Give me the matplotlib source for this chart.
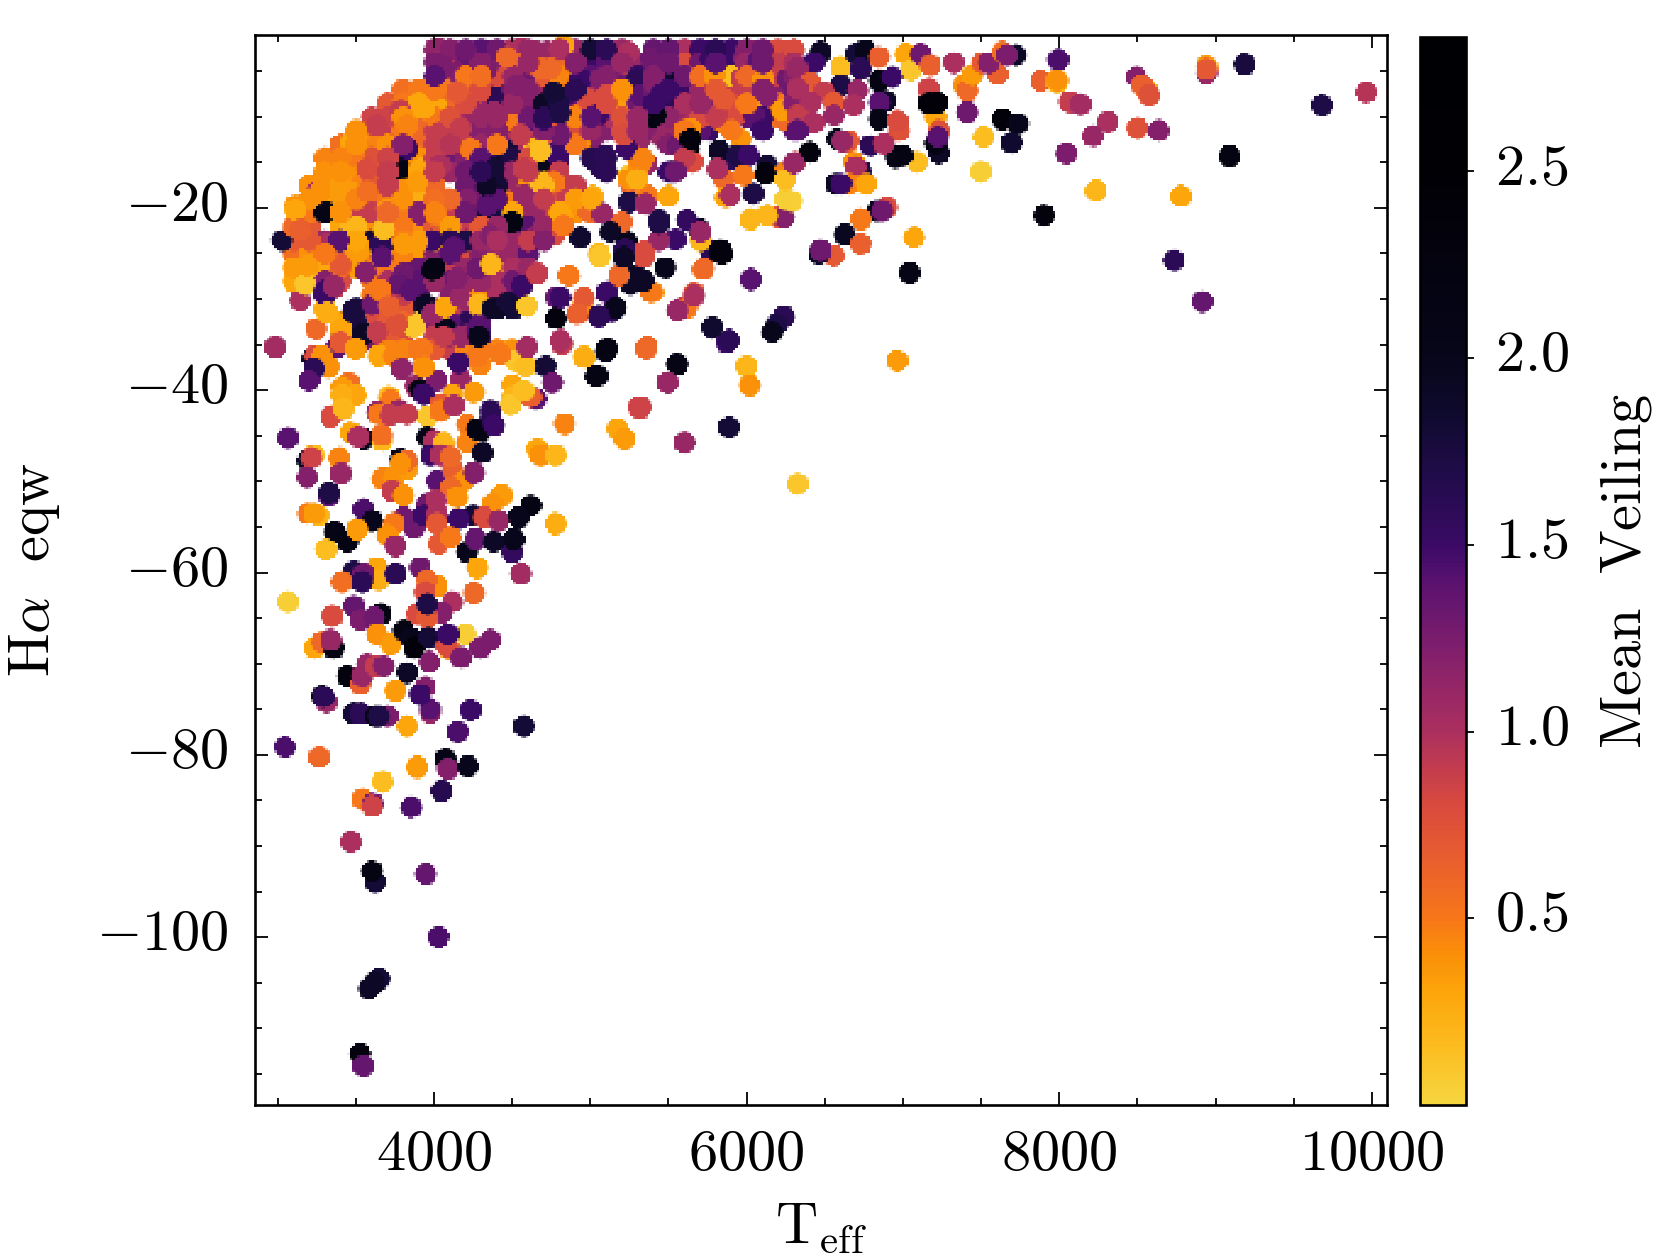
import numpy as np
import matplotlib
matplotlib.use('Agg')
import matplotlib.pyplot as plt
from matplotlib.colors import LinearSegmentedColormap
from matplotlib.ticker import FuncFormatter, MultipleLocator
from matplotlib.transforms import ScaledTranslation

plt.rcParams['mathtext.fontset'] = 'cm'
plt.rcParams['font.family'] = 'serif'
plt.rcParams['font.serif'] = ['cmr10']
plt.rcParams['axes.unicode_minus'] = False

# (Teff, Halpha eqw, mean veiling), region by region
crowded = [
    (4000,-2.6,1.15),(4100,-2.6,1.2),(4200,-2.6,1.3),(4300,-2.6,1.4),(4400,-2.6,1.3),(4500,-2.6,1.0),(4600,-2.6,1.1),
    (4800,-2.6,1.0),(4900,-2.6,1.1),(5000,-2.6,1.8),(5100,-2.6,1.6),(5200,-2.6,1.1),(5400,-2.6,1.35),(5500,-2.6,1.35),
    (5600,-2.6,1.0),(5700,-2.6,1.5),(5800,-2.6,1.6),(5900,-2.6,1.5),(6000,-2.6,1.2),(6100,-2.6,1.3),(6200,-2.6,.8),(6300,-2.6,.8),
    (4000,-4,1.25),(4100,-4,1.1),(4200,-4,1.25),(4300,-4,1.2),(4400,-4,1.25),(4500,-4,.6),(4600,-4,1.1),(4700,-4,.6),
    (4800,-4,.6),(4900,-4,1.2),(5000,-4,1.5),(5100,-4,1.4),(5200,-4,1.1),(5300,-4,1.1),(5400,-4,1.3),(5500,-4,1.3),
    (5600,-4,.9),(5700,-4,1.3),(5800,-4,1.4),(5900,-4,1.5),(6000,-4,1.1),(6100,-4,1.3),(6200,-4,.9),(6300,-4,1.0),
    (4000,-5.5,1.4),(4100,-5.5,1.2),(4200,-5.5,.5),(4300,-5.5,.55),(4400,-5.5,.8),(4500,-5.5,1.1),(4600,-5.5,1.2),(4700,-5.5,.7),
    (4800,-5.5,.45),(4900,-5.5,1.4),(5000,-5.5,1.4),(5100,-5.5,1.2),(5200,-5.5,.8),(5300,-5.5,1.5),(5400,-5.5,1.2),(5500,-5.5,1.8),
    (5600,-5.5,1.3),(5700,-5.5,.55),(5800,-5.5,.4),(5900,-5.5,.15),(6000,-5.5,.6),(6100,-5.5,.35),(6200,-5.5,.9),(6300,-5.5,1.2),
    (3800,-7,.55),(3900,-7,.5),(4000,-7,.5),(4100,-7,.6),(4200,-7,.65),(4300,-7,.8),(4400,-7,1.6),(4500,-7,1.2),(4600,-7,1.2),(4700,-7,1.1),
    (4800,-7,1.8),(4900,-7,1.6),(5000,-7,1.0),(5100,-7,.8),(5200,-7,.4),(5300,-7,1.4),(5400,-7,1.3),(5500,-7,1.5),
    (5600,-7,1.5),(5700,-7,1.1),(5800,-7,.7),(5900,-7,.9),(6000,-7,.9),(6100,-7,1.2),(6200,-7,1.2),(6300,-7,1.3),
    (3700,-8.5,.7),(3800,-8.5,.5),(3900,-8.5,.3),(4000,-8.5,.3),(4100,-8.5,.6),(4200,-8.5,.8),(4300,-8.5,1.1),(4400,-8.5,1.2),(4500,-8.5,1.1),(4600,-8.5,1.2),(4700,-8.5,1.9),
    (4800,-8.5,1.7),(4900,-8.5,1.3),(5000,-8.5,.7),(5100,-8.5,.8),(5200,-8.5,.4),(5300,-8.5,1.3),(5400,-8.5,1.5),(5500,-8.5,1.6),
    (5600,-8.5,1.0),(5700,-8.5,1.1),(5800,-8.5,.9),(5900,-8.5,.8),(6000,-8.5,.5),(6100,-8.5,1.3),(6200,-8.5,.5),(6300,-8.5,1.2),
    (3600,-10,.85),(3700,-10,.85),(3800,-10,.4),(3900,-10,.35),(4000,-10,.5),(4100,-10,.75),(4200,-10,1.0),(4300,-10,1.1),(4400,-10,1.1),(4500,-10,.5),(4600,-10,1.3),(4700,-10,1.6),
    (4800,-10,1.7),(4900,-10,.45),(5000,-10,1.4),(5100,-10,1.0),(5200,-10,.75),(5300,-10,1.1),(5400,-10,2.2),(5500,-10,1.15),
    (5600,-10,1.0),(5700,-10,.8),(5800,-10,.9),(5900,-10,.7),(6000,-10,1.4),(6100,-10,1.5),(6200,-10,.5),(6300,-10,1.3),
    (3500,-11.5,.4),(3600,-11.5,.9),(3700,-11.5,.9),(3800,-11.5,.5),(3900,-11.5,.55),(4000,-11.5,.9),(4100,-11.5,.9),(4200,-11.5,1.0),(4300,-11.5,1.2),(4400,-11.5,1.2),(4500,-11.5,1.1),(4600,-11.5,.9),(4700,-11.5,1.2),
    (4800,-11.5,1.3),(4900,-11.5,.8),(5000,-11.5,1.1),(5100,-11.5,1.2),(5200,-11.5,.8),(5300,-11.5,1.1),(5400,-11.5,1.2),(5500,-11.5,1.1),
    (5600,-11.5,.5),(5700,-11.5,1.4),(5900,-11.5,.5),(6100,-11.5,1.5),(6300,-11.5,1.4),
    (3400,-13,.55),(3500,-13,.4),(3600,-13,.45),(3700,-13,.4),(3800,-13,1.2),(3900,-13,.6),(4000,-13,.9),(4100,-13,.95),(4200,-13,.9),(4300,-13,1.1),(4400,-13,.5),(4500,-13,1.3),(4600,-13,1.0),(4700,-13,.25),
    (4800,-13,1.4),(4900,-13,.5),(5000,-13,1.2),(5300,-13,1.1),(5500,-13,1.2),(5600,-13,2.3),
    (3300,-14.5,.45),(3400,-14.5,.45),(3500,-14.5,.4),(3600,-14.5,.75),(3700,-14.5,.85),(3800,-14.5,1.9),(3900,-14.5,.4),(4000,-14.5,.9),(4100,-14.5,1.0),(4200,-14.5,1.2),(4300,-14.5,1.4),(4400,-14.5,1.6),(4500,-14.5,1.7),(4600,-14.5,.8),(4700,-14.5,.3),
    (4800,-14.5,1.5),(5000,-14.5,1.65),(5100,-14.5,1.65),(5300,-14.5,.45),(5600,-14.5,.9),(5900,-14.5,1.6),
    (3300,-16,.4),(3400,-16,.4),(3500,-16,.45),(3600,-16,.7),(3700,-16,.9),(3800,-16,2.2),(3900,-16,.3),(4000,-16,.9),(4100,-16,1.1),(4200,-16,1.3),(4300,-16,1.6),(4400,-16,1.85),(4500,-16,1.1),(4600,-16,.9),(4700,-16,2.0),
    (4800,-16,.9),(5100,-16,1.6),(5300,-16,.4),(5500,-16,1.5),
    (3200,-17.5,.4),(3300,-17.5,.35),(3400,-17.5,.35),(3500,-17.5,.4),(3600,-17.5,.7),(3700,-17.5,.9),(3800,-17.5,.45),(3900,-17.5,.35),(4000,-17.5,.6),(4200,-17.5,1.3),(4300,-17.5,1.7),(4400,-17.5,1.8),(4500,-17.5,1.1),(4600,-17.5,.4),(4700,-17.5,.2),
    (4800,-17.5,.5),(4900,-17.5,.9),
    (3200,-19,.4),(3300,-19,.3),(3400,-19,.35),(3500,-19,.45),(3600,-19,.55),(3700,-19,.5),(3800,-19,.4),(3900,-19,.25),(4000,-19,.55),(4100,-19,.6),(4200,-19,1.2),(4300,-19,1.3),(4400,-19,1.4),(4500,-19,.6),(4600,-19,1.1),(4700,-19,.9),
    (4800,-19,.9),(4900,-19,.35),(5000,-19,.3),
    (3200,-20.5,.5),(3300,-20.5,2.0),(3400,-20.5,.4),(3500,-20.5,1.1),(3600,-20.5,.9),(3700,-20.5,.6),(3800,-20.5,.5),(3900,-20.5,1.2),(4000,-20.5,.45),(4100,-20.5,.9),(4200,-20.5,1.3),(4300,-20.5,1.7),(4400,-20.5,1.7),(4500,-20.5,.3),(4600,-20.5,1.2),(4700,-20.5,.9),
    (4800,-20.5,.3),(4900,-20.5,.4),(5000,-20.5,.55),
    (3100,-22,.6),(3200,-22,.7),(3400,-22,.3),(3500,-22,.2),(3600,-22,.4),(3700,-22,.15),(3800,-22,.5),(3900,-22,.4),(4000,-22,.55),(4100,-22,.35),(4200,-22,.9),(4300,-22,.7),(4400,-22,1.1),(4500,-22,2.1),(4600,-22,1.4),(4700,-22,1.1),(4800,-22,.45),
    (3100,-23.5,.7),(3200,-23.5,.7),(3300,-23.5,1.1),(3400,-23.5,1.6),(3500,-23.5,.3),(3600,-23.5,1.8),(3700,-23.5,1.7),(3800,-23.5,.45),(3900,-23.5,.35),(4000,-23.5,.3),(4100,-23.5,1.6),(4200,-23.5,1.7),(4300,-23.5,1.1),(4400,-23.5,1.0),(4500,-23.5,1.1),(4600,-23.5,.9),(4700,-23.5,1.2),
    (3100,-25,.55),(3200,-25,.4),(3300,-25,.5),(3400,-25,.45),(3500,-25,.35),(3600,-25,1.2),(3700,-25,.35),(3800,-25,.45),(3900,-25,.3),(4000,-25,1.2),(4100,-25,1.4),(4200,-25,.8),(4300,-25,1.2),(4400,-25,1.1),(4500,-25,1.1),(4600,-25,1.4),
    (3100,-26.5,.35),(3200,-26.5,.5),(3300,-26.5,.35),(3400,-26.5,.6),(3500,-26.5,.35),(3600,-26.5,.45),(3700,-26.5,.5),(3800,-26.5,1.3),(3900,-26.5,1.35),(4000,-26.5,2.2),(4100,-26.5,.9),(4200,-26.5,1.1),(4300,-26.5,1.3),(4400,-26.5,.25),(4500,-26.5,1.0),(4600,-26.5,1.1),
    (3100,-28,.3),(3200,-28,.15),(3300,-28,1.2),(3400,-28,.8),(3600,-28,.5),(3700,-28,1.0),(3800,-28,1.3),(3900,-28,1.4),(4000,-28,1.1),(4100,-28,1.3),(4200,-28,1.1),(4300,-28,1.1),(4400,-28,1.0),(4500,-28,1.3),
    (3300,-29.5,1.5),(3600,-29.5,.5),(3700,-29.5,.6),(3800,-29.5,.9),(3900,-29.5,1.4),(4100,-29.5,1.2),(4200,-29.5,1.0),(4300,-29.5,.4),(4400,-29.5,1.0),(4500,-29.5,1.9),
    (3300,-31,.25),(3500,-31,1.75),(3600,-31,1.3),(3700,-31,.65),(3800,-31,.7),(3900,-31,1.7),(4000,-31,1.1),(4100,-31,.9),(4200,-31,1.1),(4300,-31,.2),(4400,-31,1.9),(4500,-31,1.8),
    (3400,-32.5,.3),(3500,-32.5,1.75),(3600,-32.5,.8),(3700,-32.5,.7),(3800,-32.5,.6),(3900,-32.5,.1),(4000,-32.5,1.2),(4100,-32.5,1.4),(4200,-32.5,1.6),(4300,-32.5,1.4),
    (3400,-34,1.0),(3500,-34,1.9),(3600,-34,1.0),(3700,-34,.7),(3800,-34,.8),(4000,-34,.9),(4100,-34,1.4),(4200,-34,1.1),(4300,-34,1.5),
    (3700,-35.5,.45),(3800,-35.5,.45),(3900,-35.5,.5),(4000,-35.5,.7),(4100,-35.5,.9),(4200,-35.5,.45),(4300,-35.5,.5),(4400,-35.5,.45),(4500,-35.5,.4),
]

upper_left = [
    (4030,-2.5,1.1),(4030,-3.8,1.1),(4030,-5.0,1.3),(4018,-2.7,1.1),(4103,-3.2,1.0),(4209,-3.1,1.35),(4316,-2.9,1.35),
    (4401,-3.4,1.2),(4465,-3.4,.6),(4551,-2.5,1.0),(4657,-2.9,1.1),(4060,-4.5,1.25),(4167,-5.1,1.0),(4231,-5.8,.55),
    (4337,-4.7,1.25),(4465,-5.1,1.1),(4572,-5.8,1.3),(4679,-4.7,.6),(3932,-7.3,.55),(4039,-6.5,.5),(4146,-7.3,.7),
    (4273,-7.3,.7),(4401,-8.0,1.6),(4530,-6.5,1.2),(4636,-7.3,1.2),(4721,-8.7,1.9),(3932,-9.1,.3),(3847,-8.0,.55),
    (4018,-8.9,.3),(3783,-9.3,.9),(4103,-9.8,.8),(4252,-9.5,1.1),(4380,-9.5,1.1),(4487,-10.2,.5),(4615,-10.2,1.4),
    (4700,-10.2,1.5),(3698,-10.9,.9),(3634,-10.9,.9),(3826,-10.9,.45),(3932,-11.3,.6),(4039,-11.7,.9),(4167,-11.3,.9),
    (4295,-11.7,1.2),(4423,-12.0,1.2),(4551,-12.0,.9),(3506,-12.0,.35),(3463,-12.8,.3),(3591,-12.8,.35),(3399,-13.9,.55),
    (3484,-14.2,.5),(3612,-14.2,.45),(3719,-13.5,.4),(3826,-13.5,1.5),(3975,-13.5,.9),(4124,-13.7,1.3),(4231,-13.5,.5),
    (4380,-13.5,.45),(4465,-13.7,1.8),(4636,-13.5,.2),(3346,-15.3,.45),(3442,-15.7,.4),(3570,-15.7,.8),(3655,-15.3,.85),
    (3921,-15.7,.25),(4039,-15.3,1.0),(4146,-15.1,1.1),(4252,-15.7,1.3),(4380,-15.7,1.8),(4444,-15.3,1.9),(4316,-16.8,1.7),
    (4572,-15.7,.9),(4679,-15.5,2.0),(3292,-16.8,.4),(3399,-16.4,.35),(3506,-16.8,.45),(3804,-17.9,.4),(3890,-17.1,.35),
    (3996,-17.1,.7),(4209,-17.1,1.3),(4337,-17.5,1.9),(4465,-17.5,1.1),(4668,-17.3,.15),(3271,-18.2,.4),(3356,-18.2,.3),
    (3463,-18.2,.35),(3570,-18.2,.55),(3719,-18.6,.55),(3890,-19.0,.25),(3996,-19.0,.55),(4081,-19.0,.6),(4209,-19.0,1.2),
    (4337,-19.7,1.4),(4444,-19.0,.5),(4572,-18.6,1.1),(4700,-18.2,.9),(3250,-18.2,1.0),(3303,-20.4,2.1),(3420,-20.8,.4),
    (3527,-20.1,.9),(3698,-20.1,.35),(3804,-20.4,.5),(3921,-20.8,1.2),(4018,-20.8,.5),(4146,-20.4,1.3),(4337,-20.4,1.8),
    (4497,-21.5,2.2),(4551,-21.9,1.5),(4636,-20.4,1.1),(3111,-19.7,.4),(3143,-20.6,.7),(3463,-22.3,.2),(3676,-22.3,.15),
    (3644,-24.1,1.8),(3527,-24.3,.35),(3890,-23.7,.35),(4081,-23.7,1.5),(3996,-21.9,.7),(4359,-23.0,1.2),(4487,-23.7,1.1),
    (4657,-23.0,1.2),(3111,-20.2,.3),(3154,-20.6,.6),(3026,-23.5,1.8),(3143,-22.4,.65),(3186,-23.9,.7),(3314,-23.9,1.0),
    (3388,-23.5,1.4),(3186,-26.1,.4),(3314,-26.1,.3),(3399,-26.1,.7),(3527,-25.0,.4),(3655,-23.9,1.6),(3666,-25.4,1.4),
    (3570,-27.2,1.3),(3356,-28.7,.9),(3804,-23.9,.35),(3890,-24.5,.35),(3985,-23.5,1.5),(4124,-24.3,1.4),
]

upper_mid = [
    (4827,-2.1,.3),(4721,-2.9,1.1),(4998,-3.6,1.8),(5083,-2.9,1.5),(5243,-2.9,1.0),(5233,-4.5,.6),(5446,-3.6,1.3),(5382,-3.6,1.3),
    (5531,-3.2,1.3),(5617,-4.0,.8),(5766,-3.6,1.5),(5872,-4.0,1.5),(5979,-3.6,1.2),(6064,-4.0,1.4),(6171,-3.6,.7),(6278,-3.6,.9),
    (4742,-4.7,.6),(4827,-5.1,.4),(4934,-5.8,1.5),(5062,-5.8,1.2),(5147,-5.8,1.3),(5297,-5.8,1.6),(5403,-6.2,1.2),(5574,-6.2,1.9),
    (5702,-5.8,.6),(5787,-5.4,.4),(5851,-5.4,.15),(5958,-5.8,.9),(6107,-5.8,.4),(6150,-6.2,.3),(6256,-5.8,1.3),(4763,-7.3,1.8),
    (4870,-7.3,1.5),(4977,-8.0,.8),(5105,-7.6,.8),(5201,-7.6,.35),(5318,-7.6,1.4),(5446,-7.6,1.5),(5617,-7.3,1.5),(5723,-8.0,1.2),
    (5851,-8.0,.7),(5979,-8.0,.7),(6022,-8.4,.3),(6128,-7.6,1.2),(6256,-7.3,1.1),(4721,-9.1,1.9),(4806,-9.5,1.7),(4913,-9.8,.5),
    (5041,-9.8,1.5),(5169,-9.8,.9),(5297,-10.2,1.1),(5414,-9.8,2.2),(5531,-9.8,1.1),(5638,-11.3,.4),(5809,-9.8,.9),(5755,-11.5,1.5),
    (5936,-9.8,.8),(6043,-9.8,1.4),(6086,-10.9,1.5),(6235,-10.2,.6),(6224,-9.3,.35),(6310,-11.3,1.4),(4742,-11.7,.7),(4806,-12.0,1.3),
    (4934,-12.8,.4),(5041,-11.7,1.2),(5211,-12.0,.8),(5318,-12.4,1.1),(5467,-12.4,1.1),(5553,-13.1,1.3),(5851,-10.6,.45),(5958,-12.4,.4),
    (4678,-13.7,.15),(4721,-13.1,1.9),(4774,-13.9,1.5),(5094,-14.2,1.6),(5062,-15.5,1.6),(5233,-13.5,1.5),(5339,-14.6,.45),(5361,-15.1,1.1),
    (5649,-14.9,.8),(5638,-12.4,2.3),(5627,-13.5,2.4),(5520,-16.0,2.0),(5542,-16.0,1.3),(5819,-13.7,1.9),(5936,-14.2,1.7),(6011,-14.2,1.5),
    (5851,-16.8,.6),(5809,-15.7,1.0),(5979,-16.4,.5),(6128,-15.3,1.8),(6118,-16.2,2.3),(6246,-16.8,.15),(6235,-16.2,.45),(6310,-14.9,.9),
    (5243,-16.4,.1),(5243,-16.8,.4),(5297,-16.8,.25),(5254,-17.3,.65),(4699,-17.1,.2),(4763,-17.1,.5),(4827,-18.6,.9),(4721,-18.6,.8),
    (5013,-18.7,.25),(4945,-19.5,.35),(4977,-20.2,.6),(5073,-20.6,1.1),(5361,-18.6,.5),(5243,-19.3,1.7),(5350,-19.5,1.1),(5499,-18.7,.3),
    (5201,-21.5,.6),(5126,-22.6,1.9),(5233,-23.7,2.0),(5435,-21.3,1.7),(5617,-21.3,1.55),(5691,-22.3,2.0),(5702,-23.5,.2),(5702,-22.6,1.1),
    (5542,-23.4,1.5),(5435,-23.5,1.1),(4934,-23.2,1.85),(5051,-25.0,.2),(4817,-20.8,.3),(4827,-21.9,.5),(4763,-23.0,.8),(5862,-18.8,.3),
    (5894,-18.6,1.0),(6039,-18.4,1.7),(6022,-21.2,.2),(6128,-20.8,.2),(6203,-21.0,.7),(6235,-21.0,1.2),(6246,-19.0,.05),(5766,-24.6,1.6),
    (5830,-24.6,2.3),(5339,-24.8,.8),
]

upper_right = [
    (6470,-2.9,1.9),(6427,-4.0,1.5),(6320,-4.7,1.1),(6598,-4.5,.15),(6694,-3.1,1.8),(6758,-2.7,2.0),(6726,-4.7,1.6),(6843,-3.4,.65),
    (7014,-3.1,.3),(7046,-4.9,.1),(7110,-3.1,1.3),(7174,-4.3,.65),(6843,-6.0,2.2),(6928,-5.6,1.5),(7163,-6.9,.85),(7323,-4.0,1.0),
    (7387,-6.5,.4),(7409,-7.1,.6),(7440,-5.4,.35),(7504,-4.0,.7),(7600,-5.3,.65),(7547,-4.0,1.2),(7632,-2.9,.55),(7718,-3.2,1.9),
    (7664,-3.2,1.25),(6598,-6.5,1.7),(6704,-7.1,1.1),(6406,-6.2,.7),(6320,-6.9,1.0),(6491,-7.3,.9),(6406,-8.4,1.0),(6555,-8.4,.7),
    (6683,-8.7,1.0),(6886,-8.2,1.9),(6843,-8.4,1.4),(6320,-9.8,.9),(6427,-10.6,1.0),(6555,-9.8,1.1),(6320,-11.5,1.4),(6843,-10.2,2.1),
    (6971,-11.5,.75),(6960,-10.4,.8),(7206,-10.0,.3),(7163,-8.5,2.4),(7216,-8.4,2.4),(7227,-11.5,.75),(7227,-14.0,1.9),(7206,-12.9,2.2),
    (7220,-12.2,1.4),(7408,-9.5,1.3),(7632,-10.2,2.4),(7732,-10.7,2.0),(7692,-12.8,1.85),(7511,-12.2,.15),(7494,-16.0,.05),(7088,-14.9,.15),
    (6950,-14.4,2.1),(6992,-14.2,2.2),(6790,-13.1,1.6),(6875,-12.9,1.0),(6576,-12.4,2.0),(6651,-12.6,.7),(6608,-12.6,1.1),(6401,-13.9,2.3),
    (6299,-15.0,1.1),(6683,-14.9,.4),(6726,-15.9,1.7),(6694,-15.5,1.0),(6651,-17.3,.45),(6566,-17.3,1.9),(6598,-17.3,1.5),(6764,-17.3,.3),
    (6896,-19.9,.8),(6832,-20.3,2.0),(6864,-20.3,1.3),(6726,-21.2,.5),(6625,-22.9,1.95),(6726,-23.9,.65),(7069,-23.2,.3),(6555,-25.2,.7),
    (6459,-25.0,1.9),(6470,-24.6,1.3),(6288,-19.2,.05),
]

far_right = [
    (7989,-3.7,1.45),(8937,-4.4,.35),(8937,-5.2,1.1),(8937,-4.8,.7),(9181,-4.2,1.75),(9676,-8.7,1.7),(9960,-7.3,.95),(8490,-5.6,1.2),
    (8552,-7.0,.3),(8524,-6.5,.65),(8572,-7.6,.75),(7878,-6.0,.65),(7983,-6.2,.2),(7983,-5.9,.4),(8064,-8.3,.9),(8132,-8.6,1.05),
    (8308,-10.5,1.0),(8213,-12.1,1.1),(8497,-11.2,.75),(8633,-11.5,1.2),(8043,-14.0,1.25),(9086,-14.3,2.2),(8233,-18.1,.2),(8775,-18.7,.3),
    (7899,-20.8,2.3),(8734,-25.7,1.6),(8910,-30.2,1.35),(6960,-36.7,.35),(6323,-50.2,.1),(7041,-27.1,2.1),
]

middle = [
    (2983,-35.2,1.05),(3143,-30.1,1.0),(3175,-28.3,.1),(3186,-26.3,.35),(3245,-33.2,.6),(3314,-31.5,.25),(3410,-33.4,.3),(3378,-35.2,1.4),
    (3399,-34.7,.7),(3303,-29.0,1.5),(3356,-28.5,1.1),(3559,-27.0,1.2),(3474,-31.3,1.75),(3602,-30.5,1.3),(3548,-34.5,1.3),(3548,-33.8,1.9),
    (3495,-35.4,.35),(3218,-36.5,1.9),(3239,-36.2,.8),(3282,-36.2,.4),(3324,-37.4,.4),(3228,-37.6,1.6),(3196,-38.9,1.4),(3452,-39.1,.55),
    (3410,-39.6,.35),(3495,-40.5,.3),(3410,-40.5,.25),(3410,-42.0,.2),(3644,-36.2,.3),(3740,-36.2,.45),(3793,-37.6,1.15),(3708,-40.7,.2),
    (3719,-41.1,.5),(3634,-42.4,1.1),(3698,-42.7,1.0),(3772,-42.2,1.1),(3879,-39.5,1.1),(3911,-39.8,2.2),(4017,-38.9,1.25),(3932,-40.4,1.5),
    (4167,-38.7,1.1),(4252,-40.2,.35),(4113,-40.5,.3),(4039,-41.5,.7),(3954,-42.9,.1),(4359,-42.2,1.6),(4295,-44.4,2.2),(4647,-40.9,1.4),
    (4615,-40.7,.65),(4497,-39.4,.3),(4497,-40.7,.2),(4487,-41.5,.1),(4572,-40.0,.15),(4711,-37.3,1.8),(4753,-39.1,1.3),(4519,-36.7,.1),
    (4583,-37.3,.15),(4423,-36.0,.5),(4295,-37.1,.45),(4273,-36.3,.5),(4156,-36.9,1.5),(3922,-35.4,.5),(3932,-37.4,.4),(3868,-33.0,.1),
    (4071,-33.2,2.0),(4167,-34.1,1.1),(4273,-33.4,1.4),(4284,-34.1,2.0),(4060,-34.1,.9),(3708,-33.4,.7),(3634,-33.6,.9),(3761,-32.7,.75),
    (3804,-27.2,1.3),(3772,-28.3,1.35),(3847,-29.0,1.4),(3655,-29.0,.5),(3708,-30.7,.65),(3985,-26.8,2.2),(3943,-30.5,1.9),(3985,-31.6,1.1),
    (4071,-30.8,.3),(4167,-29.8,1.1),(4284,-30.5,.2),(4370,-31.0,1.9),(4470,-30.3,1.8),(4561,-28.5,1.5),(4593,-30.7,.1),(4775,-29.8,1.35),
    (4775,-32.1,2.3),(4818,-34.9,.9),(4273,-26.6,1.3),(4359,-26.1,.2),(4145,-27.7,1.2),(4657,-27.2,.9),(5551,-37.1,2.0),(5998,-37.3,.2),
    (6018,-39.4,.4),(6025,-27.8,1.4),(6235,-31.9,1.6),(6188,-32.7,1.7),(6160,-33.6,2.0),(5775,-33.1,1.7),(5869,-34.7,1.5),(5355,-35.4,.6),
    (5097,-35.7,2.0),(5029,-38.4,2.1),(4962,-36.4,.2),(5314,-41.9,.8),(5490,-39.1,1.1),(5138,-31.3,1.55),(5050,-31.9,1.5),(4948,-30.9,.4),
    (5104,-29.3,1.4),(4860,-27.4,.5),(5056,-25.3,.1),(5219,-24.5,1.6),(5287,-27.4,1.9),(5395,-29.2,.4),(5477,-26.5,2.0),(5659,-29.3,.7),
    (5592,-30.9,.9),(5720,-26.7,.5),(5815,-24.9,2.2),(5436,-21.6,1.7),(5341,-28.1,1.4),(5340,-25.4,.8),(5724,-26.6,.6),(5841,-25.0,2.3),
    (4956,-29.8,.7),(5105,-29.2,1.5),(5159,-30.9,2.0),(5052,-31.8,1.6),(4913,-31.6,.65),(4807,-29.8,1.5),(5383,-29.2,.5),(5617,-30.9,.5),
    (5660,-29.6,1.0),(5553,-31.2,1.1),(5340,-27.9,1.9),(5254,-28.3,1.9),(5180,-27.4,.6),(5212,-25.4,1.9),(5777,-33.0,1.85),(5884,-34.5,1.6),
    (5361,-35.2,.6),(4956,-36.3,.25),(5105,-35.4,2.2),(5041,-38.4,2.2),(5553,-37.1,2.1),(5495,-39.1,1.1),(4807,-34.5,1.0),(4593,-35.2,1.05),
    (5308,-41.8,.85),
]

lower = [
    (3186,-47.7,1.9),(3228,-47.1,.15),(3211,-47.4,.85),(3062,-45.2,1.4),(3392,-47.4,.45),(3186,-49.5,1.2),(3403,-49.1,1.1),(3324,-51.5,1.4),
    (3324,-51.2,1.7),(3548,-53.0,1.45),(3602,-54.3,2.0),(3190,-53.5,.5),(3260,-53.7,.2),(3228,-53.5,.35),(3363,-55.5,2.1),(3442,-56.6,2.2),
    (3506,-55.2,.35),(3307,-57.4,.15),(3666,-49.7,.45),(3740,-49.5,.4),(3825,-48.6,.35),(3783,-47.5,2.0),(3825,-47.7,.6),(3783,-48.0,.4),
    (3730,-51.0,.9),(3804,-51.5,.4),(4017,-49.9,1.4),(4113,-48.6,.65),(4188,-49.9,.4),(4252,-49.0,1.2),(4103,-50.6,.6),(4145,-51.7,.4),
    (3954,-52.4,1.3),(4007,-52.1,1.0),(4433,-51.5,.35),(4369,-52.4,.4),(4615,-52.6,2.2),(4540,-53.9,2.0),(4775,-54.6,.25),(4252,-53.7,1.8),
    (4316,-53.9,.8),(4412,-54.3,1.1),(3804,-53.9,1.3),(3740,-54.6,.5),(3698,-55.9,.4),(3868,-55.0,1.3),(3751,-57.0,1.1),(4156,-54.1,1.5),
    (3932,-53.7,1.5),(4017,-53.5,1.0),(4017,-54.6,.7),(4028,-56.8,.7),(4103,-56.1,.5),(4209,-57.7,2.0),(4263,-56.3,1.35),(4380,-56.6,1.9),
    (4497,-57.7,1.55),(4508,-56.3,2.0),(4273,-59.4,.3),(4555,-60.1,1.05),(3484,-59.8,1.7),(3634,-59.4,.3),(3644,-60.8,.25),(3548,-60.1,1.3),
    (3538,-61.0,1.6),(3410,-61.0,.55),(3751,-60.1,1.6),(3911,-59.4,1.3),(4017,-61.4,.4),(3954,-60.8,.6),(3943,-62.1,.8),(4252,-62.2,.6),
    (3062,-63.2,.05),(3346,-64.7,.8),(3659,-64.5,2.2),(3484,-63.6,1.35),(3527,-65.2,1.25),(3612,-64.9,1.3),(4113,-63.2,1.0),(4049,-64.3,1.2),
    (3890,-64.5,.8),(3954,-64.9,.7),(3954,-63.4,1.7),(3634,-66.7,.4),(3719,-67.8,.35),(4199,-66.7,.05),(3804,-66.3,2.2),(3847,-67.1,2.0),
    (3868,-68.2,2.4),(3964,-67.1,1.8),(4092,-68.3,.35),(4081,-68.0,.8),(4086,-66.7,1.5),(4359,-67.4,1.25),(4295,-68.2,1.25),(4171,-69.3,1.25),
    (3233,-68.2,.3),(3282,-67.6,.6),(3356,-68.2,2.2),(3335,-67.4,1.1),(3442,-71.3,2.3),(3527,-72.2,.65),(3538,-71.3,1.1),(3570,-70.0,1.1),
    (3623,-70.2,.9),(3676,-70.2,1.2),(3826,-70.9,1.9),(3968,-69.8,1.2),(3751,-72.9,.35),(3282,-73.5,2.0),(3309,-74.2,1.1),(3292,-73.6,1.6),
    (3971,-75.3,1.1),(3971,-74.9,1.4),(3943,-72.5,1.2),(3911,-73.3,1.5),(3484,-75.4,1.8),(3527,-75.4,1.6),(3623,-75.7,2.2),(3698,-75.7,1.25),
    (3644,-75.7,1.7),(4231,-75.0,1.5),(4572,-76.8,1.8),(3825,-76.8,.3),(4150,-77.4,1.45),(3043,-79.1,1.45),(3265,-80.2,.6),(3890,-81.3,.35),
    (4071,-80.4,2.1),(4086,-81.5,1.2),(4214,-81.2,2.0),(3670,-82.9,.15),(4049,-83.9,1.65),(3542,-84.8,.5),(3601,-85.6,.35),(3605,-85.3,1.3),
    (3601,-85.6,.85),(3851,-85.7,1.45),(3465,-89.5,1.0),(3620,-93.9,1.8),(3600,-92.7,2.2),(3946,-93.0,1.35),(4027,-99.9,1.45),(3648,-104.5,1.8),
    (3614,-105.0,1.9),(3580,-105.6,1.9),(3526,-112.7,2.3),(3546,-114.1,1.35),
    (3335,-42.9,.8),(3420,-42.0,.2),(3463,-44.6,.3),(3548,-45.3,2.0),(3516,-45.1,1.0),(3666,-45.5,.2),(3666,-44.9,.55),(3644,-42.6,.5),
    (3719,-42.7,.9),(3825,-42.6,.9),(3954,-45.1,2.1),(3996,-45.5,1.0),(4060,-45.7,.2),(3975,-47.1,1.5),(4039,-47.1,1.0),(4103,-47.3,.6),
    (4209,-43.7,.5),(4209,-45.7,.45),(4310,-46.8,1.9),(4273,-44.2,2.2),(4359,-42.9,1.6),(4380,-43.8,1.5),(4834,-43.6,.45),(5169,-44.2,.3),
    (5218,-45.3,.35),(4657,-46.4,.3),(4679,-47.1,.4),(4775,-47.1,.2),(5319,-41.8,.85),(5600,-45.7,1.1),(5884,-44.0,1.8),(4039,-42.2,.5),
    (4124,-41.6,1.0),
]

cbar_ticks = [0.5, 1.0, 1.5, 2.0, 2.5]
# colorbar stops: veiling value, colour
cmap_values = [0.0, 0.15, 0.3, 0.4, 0.5, 0.65, 0.8, 1.0, 1.2, 1.4, 1.5, 1.7, 1.85, 2.0, 2.5, 2.86]
cmap_colors = ['#f6d63f', '#fcbc20', '#fca50a', '#fb8f08', '#f6761a', '#e95f2e', '#d94a3e', '#ab2f5f',
               '#84206b', '#5a1270', '#3a0a66', '#1f0c48', '#0f0a2e', '#07061a', '#010005', '#000004']


def pixelate(img, dpi, step=2.44):
    # the points in the original are a coarse raster
    ny, nx = img.shape[:2]
    iy = np.clip((np.floor(np.arange(ny) / step) * step + step / 2).astype(int), 0, ny - 1)
    ix = np.clip((np.floor(np.arange(nx) / step) * step + step / 2).astype(int), 0, nx - 1)
    return img[np.ix_(iy, ix)], 0, 0


# mix the drawing order of the crowded part so that no rows show up
dense = upper_left + upper_mid + crowded
dense = [dense[(i * 373) % len(dense)] for i in range(len(dense))]
points = np.array(dense + upper_right + far_right + middle + lower)
teff, eqw, veil = points[:, 0], points[:, 1], points[:, 2]

vmin, vmax = cmap_values[0], cmap_values[-1]
stops = [(v - vmin) / (vmax - vmin) for v in cmap_values]
cmap = LinearSegmentedColormap.from_list('veil', list(zip(stops, cmap_colors)))

W, H = 1661, 1258
fig = plt.figure(figsize=(W / 100, H / 100), dpi=100)
ax = fig.add_axes([254.5 / W, (H - 1105) / H, (1387 - 254.5) / W, (1105 - 35) / H])
cax = fig.add_axes([1420 / W, (H - 1105) / H, 45.5 / W, (1105 - 37) / H])

sc = ax.scatter(teff, eqw, c=veil, cmap=cmap, vmin=vmin, vmax=vmax, s=250, linewidths=0)
sc.set_agg_filter(pixelate)

ax.set_xlim(2852, 10096)
ax.set_ylim(-118.4, -1.05)
ax.xaxis.set_major_locator(MultipleLocator(2000))
ax.xaxis.set_minor_locator(MultipleLocator(500))
ax.yaxis.set_major_locator(MultipleLocator(20))
ax.yaxis.set_minor_locator(MultipleLocator(5))
math_fmt = FuncFormatter(lambda v, pos: f"${v:g}$")
ax.xaxis.set_major_formatter(math_fmt)
ax.yaxis.set_major_formatter(math_fmt)
ax.tick_params(which='both', direction='in', top=True, right=True, width=1.3, labelsize=42)
ax.tick_params(which='major', length=9.5)
ax.tick_params(which='minor', length=5)
ax.tick_params(axis='x', which='major', pad=18)
ax.tick_params(axis='y', which='major', pad=19)
for s in ax.spines.values():
    s.set_linewidth(1.9)

ax.set_xlabel(r"$\mathrm{T_{eff}}$", fontsize=42, labelpad=15)
ax.set_ylabel(r"$\mathrm{H}\alpha\ \ \mathrm{eqw}$", fontsize=42)
ax.yaxis.set_label_coords(-0.17, 0.5)

cb = fig.colorbar(sc, cax=cax)
cb.set_ticks(cbar_ticks)
cb.ax.yaxis.set_major_formatter(FuncFormatter(lambda v, pos: f"${v:.1f}$"))
cb.ax.tick_params(direction='out', length=6, width=1.3, labelsize=42, pad=15)
cb.ax.minorticks_off()
cb.outline.set_linewidth(1.9)
cb.set_label(r"$\mathrm{Mean\ \ Veiling}$", fontsize=42, labelpad=21)

# mathtext labels sit a little low against the ticks
up = ScaledTranslation(0, 7 / 100, fig.dpi_scale_trans)
for lab in ax.get_yticklabels() + cb.ax.get_yticklabels():
    lab.set_transform(lab.get_transform() + up)

fig.savefig('out.png', dpi=100)
